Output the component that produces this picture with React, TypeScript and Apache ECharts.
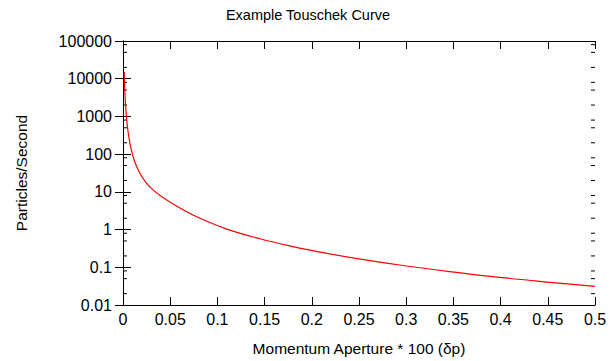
import React, { useEffect, useRef } from "react";
import * as echarts from "echarts";

// Momentum aperture (x) and rate (particles/second)
const apertures = [0.0013, 0.0021, 0.0032, 0.0042, 0.0064, 0.0085, 0.0117, 0.0148, 0.0191, 0.0244, 0.0307, 0.0392, 0.0498, 0.0604, 0.0816, 0.11, 0.145, 0.18, 0.209, 0.24, 0.293, 0.346, 0.399, 0.452, 0.5];
const rates = [15000, 3800, 1320, 690, 260, 140, 71, 45, 27.5, 17.7, 12.0, 8.0, 5.4, 3.74, 1.99, 1.03, 0.57, 0.354, 0.253, 0.184, 0.115, 0.077, 0.054, 0.040, 0.031];

// Minor tick values on the log axis (2, 5, 8 per decade)
const minorMultipliers = [2, 5, 8];
const decades = [0.01, 0.1, 1, 10, 100, 1000, 10000];

const titleText = "Example Touschek Curve";
const xName = "Momentum Aperture * 100 (δp)";
const yName = "Particles/Second";

const FONT = "Liberation Sans, Arial, Helvetica, sans-serif";

export default function App() {
  const ref = useRef<HTMLDivElement>(null);
  useEffect(() => {
    if (!ref.current) return;
    const chart = echarts.init(ref.current, undefined, { renderer: "svg" });
    const minorTicks: number[][] = [];
    decades.forEach((d) => minorMultipliers.forEach((m) => minorTicks.push([0, d * m])));
    const fmtLog = (v: number) => String(parseFloat(Number(v).toPrecision(3)));
    const fmtX = (v: number) => String(parseFloat(Number(v).toFixed(3)));
    const axisLine = { show: true, lineStyle: { color: "#000", width: 1 } };
    chart.setOption({
      animation: false,
      backgroundColor: "#fff",
      textStyle: { fontFamily: FONT },
      title: {
        text: titleText,
        left: "center",
        top: 2,
        textStyle: { fontFamily: FONT, fontSize: 14.5, fontWeight: "normal", color: "#000" },
      },
      grid: { left: 123, right: 21, top: 41, bottom: 53, containLabel: false },
      xAxis: [
        {
          type: "value",
          min: 0,
          max: 0.5,
          interval: 0.05,
          position: "bottom",
          name: xName,
          nameLocation: "middle",
          nameGap: 35,
          nameTextStyle: { fontFamily: FONT, fontSize: 15.5, color: "#000" },
          axisLine,
          axisTick: { show: true, inside: true, length: 8, lineStyle: { color: "#000" } },
          axisLabel: { margin: 6, fontFamily: FONT, fontSize: 16, color: "#000", formatter: fmtX },
          splitLine: { show: false },
        },
        {
          type: "value",
          min: 0,
          max: 0.5,
          interval: 0.05,
          position: "top",
          axisLine,
          axisTick: { show: true, inside: true, length: 8, lineStyle: { color: "#000" } },
          axisLabel: { show: false },
          splitLine: { show: false },
        },
      ],
      yAxis: [
        {
          type: "log",
          logBase: 10,
          min: 0.01,
          max: 100000,
          splitNumber: 7,
          position: "left",
          name: yName,
          nameLocation: "middle",
          nameRotate: 90,
          nameGap: 94,
          nameTextStyle: { fontFamily: FONT, fontSize: 15.5, color: "#000" },
          axisLine,
          axisTick: { show: true, inside: true, length: 8, lineStyle: { color: "#000" } },
          axisLabel: { margin: 11, fontFamily: FONT, fontSize: 16, color: "#000", formatter: fmtLog },
          splitLine: { show: false },
        },
        {
          type: "log",
          logBase: 10,
          min: 0.01,
          max: 100000,
          splitNumber: 7,
          position: "right",
          axisLine,
          axisTick: { show: true, inside: true, length: 8, lineStyle: { color: "#000" } },
          axisLabel: { show: false },
          splitLine: { show: false },
        },
      ],
      series: [
        {
          type: "line",
          xAxisIndex: 0,
          yAxisIndex: 0,
          data: apertures.map((x, i) => [x, rates[i]]),
          showSymbol: false,
          smooth: 0.4,
          lineStyle: { color: "#ff0000", width: 1.2 },
          itemStyle: { color: "#ff0000" },
          silent: true,
          z: 3,
        },
        {
          type: "custom",
          xAxisIndex: 0,
          yAxisIndex: 0,
          data: minorTicks,
          silent: true,
          clip: false,
          renderItem: (params: any, api: any) => {
            const cs = params.coordSys;
            const y = api.coord([0, api.value(1)])[1];
            const style = { stroke: "#000", lineWidth: 1 };
            return {
              type: "group",
              children: [
                { type: "line", shape: { x1: cs.x, y1: y, x2: cs.x + 4, y2: y }, style },
                { type: "line", shape: { x1: cs.x + cs.width - 4, y1: y, x2: cs.x + cs.width, y2: y }, style },
              ],
            };
          },
          z: 2,
        },
      ],
    });
    return () => chart.dispose();
  }, []);
  return (
    <div
      ref={ref}
      style={{ position: "fixed", left: 0, top: 0, width: 616, height: 361 }}
    />
  );
}
